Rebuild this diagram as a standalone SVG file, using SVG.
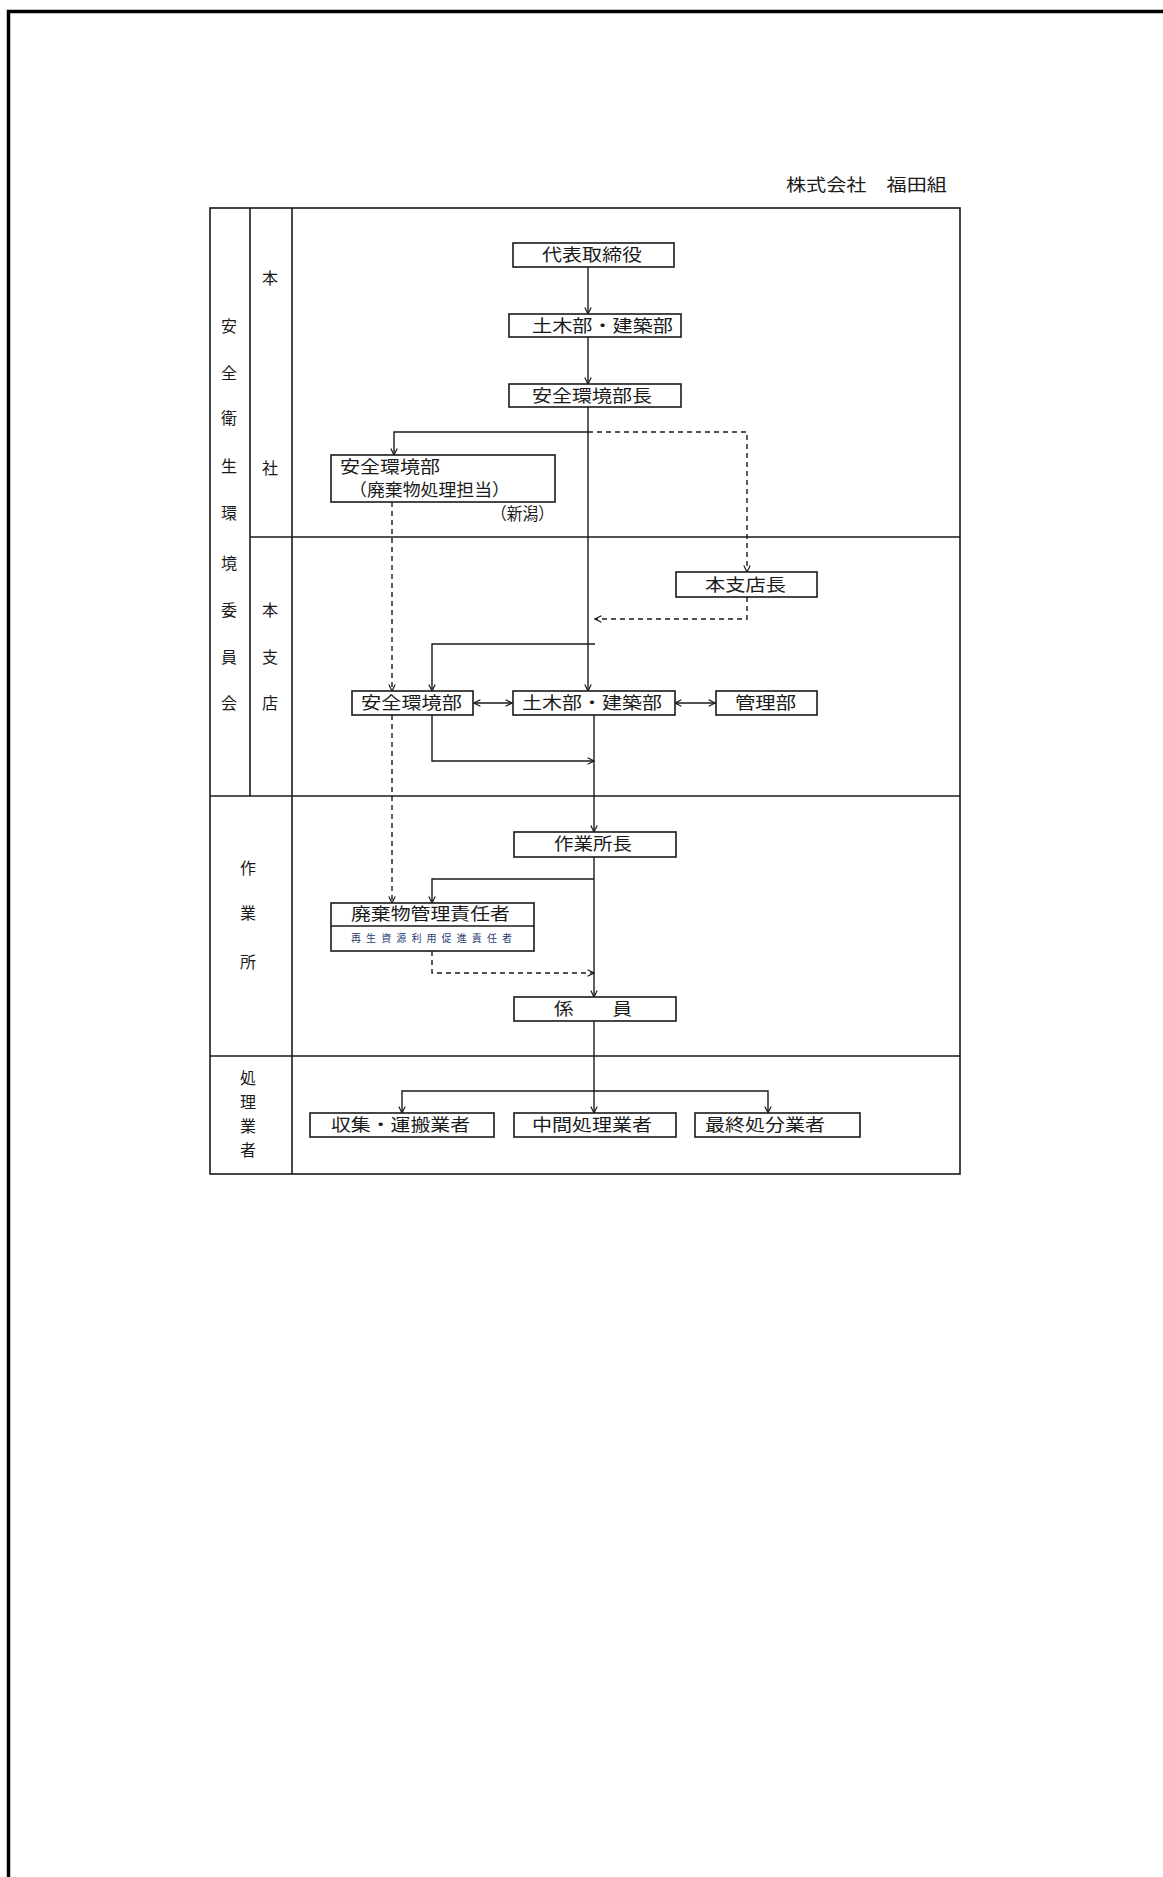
<svg xmlns="http://www.w3.org/2000/svg" width="1163" height="1877" viewBox="0 0 1163 1877">
<style>
text{font-family:"Noto Sans CJK JP","Noto Sans CJK SC",sans-serif;fill:#1a1a1a;}
.t{font-size:17px;}
.lab{font-size:16px;text-anchor:middle;}
.box{fill:#fff;stroke:#1a1a1a;stroke-width:1.6;}
.tbl{fill:none;stroke:#1a1a1a;stroke-width:1.6;}
.c{fill:none;stroke:#1a1a1a;stroke-width:1.4;}
.d{fill:none;stroke:#1a1a1a;stroke-width:1.4;stroke-dasharray:5 4;}
.sm{font-size:10px;fill:#2b3d75;}
</style>
<defs>
<marker id="ah" viewBox="0 0 10 10" refX="9" refY="5" markerWidth="8" markerHeight="8" markerUnits="userSpaceOnUse" orient="auto-start-reverse">
<path d="M1,1 L9,5 L1,9" fill="none" stroke="#1a1a1a" stroke-width="1.5"/>
</marker>
</defs>
<rect width="1163" height="1877" fill="#fff"/>
<g id="page-border">
<path d="M8.5,1877 V11.5 H1163" fill="none" stroke="#000" stroke-width="3.5"/>
</g>
<g id="company"><text class="t" x="786" y="191" textLength="161" lengthAdjust="spacingAndGlyphs">株式会社　福田組</text></g>
<g id="table">
<rect class="tbl" x="210" y="208" width="750" height="966"/>
<line class="tbl" x1="250" y1="208" x2="250" y2="796"/>
<line class="tbl" x1="292" y1="208" x2="292" y2="1174"/>
<line class="tbl" x1="250" y1="537" x2="960" y2="537"/>
<line class="tbl" x1="210" y1="796" x2="960" y2="796"/>
<line class="tbl" x1="210" y1="1056" x2="960" y2="1056"/>
</g>
<g id="label-committee">
<text class="lab" x="229" y="332">安</text>
<text class="lab" x="229" y="379">全</text>
<text class="lab" x="229" y="424">衛</text>
<text class="lab" x="229" y="472">生</text>
<text class="lab" x="229" y="519">環</text>
<text class="lab" x="229" y="569">境</text>
<text class="lab" x="229" y="616">委</text>
<text class="lab" x="229" y="663">員</text>
<text class="lab" x="229" y="709">会</text>
</g>
<g id="label-honsha">
<text class="lab" x="270" y="284">本</text>
<text class="lab" x="270" y="474">社</text>
</g>
<g id="label-honshiten">
<text class="lab" x="270" y="616">本</text>
<text class="lab" x="270" y="663">支</text>
<text class="lab" x="270" y="709">店</text>
</g>
<g id="label-sagyosho">
<text class="lab" x="248" y="874">作</text>
<text class="lab" x="248" y="919">業</text>
<text class="lab" x="248" y="968">所</text>
</g>
<g id="label-shorigyosha">
<text class="lab" x="248" y="1084">処</text>
<text class="lab" x="248" y="1108">理</text>
<text class="lab" x="248" y="1132">業</text>
<text class="lab" x="248" y="1156">者</text>
</g>
<g id="connectors">
<path class="c" d="M588,267 V314" marker-end="url(#ah)"/>
<path class="c" d="M588,337 V384" marker-end="url(#ah)"/>
<path class="c" d="M588,407 V691" marker-end="url(#ah)"/>
<path class="c" d="M588,432 H394 V455" marker-end="url(#ah)"/>
<path class="d" d="M588,432 H747 V572" marker-end="url(#ah)"/>
<path class="d" d="M747,597 V619 H595" marker-end="url(#ah)"/>
<path class="c" d="M595,644 H432 V691" marker-end="url(#ah)"/>
<path class="d" d="M392,502 V691" marker-end="url(#ah)"/>
<path class="c" d="M474,703 H512" marker-start="url(#ah)" marker-end="url(#ah)"/>
<path class="c" d="M675,703 H715" marker-start="url(#ah)" marker-end="url(#ah)"/>
<path class="c" d="M432,715 V761 H594" marker-end="url(#ah)"/>
<path class="c" d="M594,715 V832" marker-end="url(#ah)"/>
<path class="d" d="M392,715 V903" marker-end="url(#ah)"/>
<path class="c" d="M594,857 V997" marker-end="url(#ah)"/>
<path class="c" d="M594,879 H432 V903" marker-end="url(#ah)"/>
<path class="d" d="M432,951 V973 H594" marker-end="url(#ah)"/>
<path class="c" d="M594,1021 V1113" marker-end="url(#ah)"/>
<path class="c" d="M402,1113 V1091 H768 V1113" marker-start="url(#ah)" marker-end="url(#ah)"/>
</g>
<g id="n-daihyo"><rect class="box" x="513" y="243" width="161" height="24"/><text class="t" x="542" y="261" textLength="100" lengthAdjust="spacingAndGlyphs">代表取締役</text></g>
<g id="n-doboku-hq"><rect class="box" x="509" y="314" width="172" height="23"/><text class="t" x="532" y="332" textLength="141" lengthAdjust="spacingAndGlyphs">土木部・建築部</text></g>
<g id="n-anzen-bucho"><rect class="box" x="509" y="384" width="172" height="23"/><text class="t" x="532" y="402" textLength="120" lengthAdjust="spacingAndGlyphs">安全環境部長</text></g>
<g id="n-anzen-haiki"><rect class="box" x="331" y="455" width="224" height="47"/>
<text class="t" x="340" y="473" textLength="100" lengthAdjust="spacingAndGlyphs">安全環境部</text>
<text class="t" x="349" y="496" textLength="161" lengthAdjust="spacingAndGlyphs">（廃棄物処理担当）</text>
<text class="t" x="491" y="520" textLength="63" lengthAdjust="spacingAndGlyphs">（新潟）</text></g>
<g id="n-honshitencho"><rect class="box" x="676" y="572" width="141" height="25"/><text class="t" x="705" y="591" textLength="81" lengthAdjust="spacingAndGlyphs">本支店長</text></g>
<g id="n-anzen-shiten"><rect class="box" x="352" y="691" width="121" height="24"/><text class="t" x="361" y="709" textLength="101" lengthAdjust="spacingAndGlyphs">安全環境部</text></g>
<g id="n-doboku-shiten"><rect class="box" x="513" y="691" width="162" height="24"/><text class="t" x="522" y="709" textLength="140" lengthAdjust="spacingAndGlyphs">土木部・建築部</text></g>
<g id="n-kanri"><rect class="box" x="716" y="691" width="101" height="24"/><text class="t" x="735" y="709" textLength="61" lengthAdjust="spacingAndGlyphs">管理部</text></g>
<g id="n-sagyoshocho"><rect class="box" x="514" y="832" width="162" height="25"/><text class="t" x="554" y="850" textLength="78" lengthAdjust="spacingAndGlyphs">作業所長</text></g>
<g id="n-haiki-sekinin"><rect class="box" x="331" y="903" width="203" height="48"/>
<line class="c" x1="331" y1="926" x2="534" y2="926"/>
<text class="t" x="351" y="920" textLength="159" lengthAdjust="spacingAndGlyphs">廃棄物管理責任者</text>
<text class="sm" x="351" y="942" textLength="161" lengthAdjust="spacing">再生資源利用促進責任者</text></g>
<g id="n-kakariin"><rect class="box" x="514" y="997" width="162" height="24"/><text class="t" x="554" y="1015" textLength="78" lengthAdjust="spacingAndGlyphs">係　　員</text></g>
<g id="n-shushu"><rect class="box" x="310" y="1113" width="184" height="24"/><text class="t" x="331" y="1131" textLength="139" lengthAdjust="spacingAndGlyphs">収集・運搬業者</text></g>
<g id="n-chukan"><rect class="box" x="514" y="1113" width="162" height="24"/><text class="t" x="532" y="1131" textLength="120" lengthAdjust="spacingAndGlyphs">中間処理業者</text></g>
<g id="n-saishu"><rect class="box" x="695" y="1113" width="165" height="24"/><text class="t" x="705" y="1131" textLength="120" lengthAdjust="spacingAndGlyphs">最終処分業者</text></g>
</svg>
